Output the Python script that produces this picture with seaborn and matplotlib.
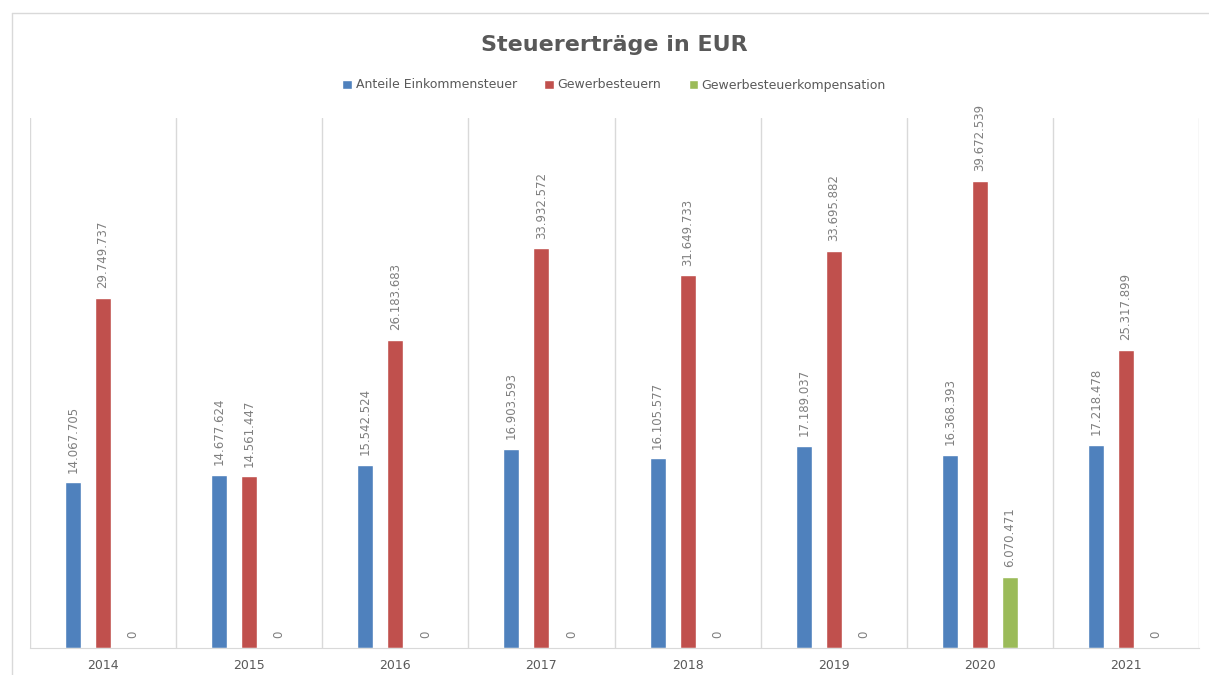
"""
Steuererträge in EUR - Balkendiagramm nach Jahren.
"""
import pandas as pd
import seaborn as sns
import matplotlib.pyplot as plt
from matplotlib.lines import Line2D
from matplotlib.patches import Patch

# Daten
jahre = ["2014", "2015", "2016", "2017", "2018", "2019", "2020", "2021"]
einkommensteuer = [14067705, 14677624, 15542524, 16903593, 16105577, 17189037, 16368393, 17218478]
gewerbesteuer = [29749737, 14561447, 26183683, 33932572, 31649733, 33695882, 39672539, 25317899]
kompensation = [0, 0, 0, 0, 0, 0, 6070471, 0]
serien = ["Anteile Einkommensteuer", "Gewerbesteuern", "Gewerbesteuerkompensation"]
farben = ["#4F81BD", "#C0504D", "#9BBB59"]

GRAU = "#595959"
HELLGRAU = "#7F7F7F"
LINIE = "#D9D9D9"


def de_format(v):
    return f"{v:,}".replace(",", ".")


def main():
    df = pd.DataFrame({
        "Jahr": jahre * 3,
        "Wert": einkommensteuer + gewerbesteuer + kompensation,
        "Steuer": [serien[0]] * 8 + [serien[1]] * 8 + [serien[2]] * 8,
    })

    sns.set_style("white")
    fig = plt.figure(figsize=(12.09, 6.75), dpi=100)
    ax = fig.add_axes([30 / 1209, 27 / 675, 1169 / 1209, 530 / 675])

    sns.barplot(data=df, x="Jahr", y="Wert", hue="Steuer", palette=farben,
                width=0.616, gap=0.47, legend=False, ax=ax, saturation=1)

    for cont, werte in zip(ax.containers, [einkommensteuer, gewerbesteuer, kompensation]):
        ax.bar_label(cont, labels=[de_format(v) for v in werte], rotation=90,
                     padding=7, fontsize=8.5, color=HELLGRAU)

    ax.set_xlim(-0.5, 7.5)
    ax.set_ylim(0, 45000000)
    ax.set_yticks([])
    ax.set_xlabel("")
    ax.set_ylabel("")
    ax.set_xticks([i - 0.5 for i in range(9)], minor=True)
    ax.grid(True, which="minor", axis="x", color=LINIE, linewidth=1)
    ax.tick_params(axis="x", which="both", length=0, labelsize=9, labelcolor=GRAU, pad=8)
    for s in ["top", "right", "left"]:
        ax.spines[s].set_visible(False)
    ax.spines["bottom"].set_color(LINIE)

    # Rahmen des Diagrammbereichs
    fig.add_artist(Line2D([12 / 1209, 12 / 1209], [0, 1 - 13 / 675], color=LINIE, linewidth=1))
    fig.add_artist(Line2D([12 / 1209, 1], [1 - 13 / 675, 1 - 13 / 675], color=LINIE, linewidth=1))

    fig.text(0.508, 1 - 45 / 675, "Steuererträge in EUR", ha="center", va="center",
             fontsize=16, fontweight="bold", color=GRAU)

    handles = [Patch(facecolor=c, label=s) for c, s in zip(farben, serien)]
    fig.legend(handles=handles, loc="center", bbox_to_anchor=(0.508, 1 - 85 / 675),
               ncol=3, frameon=False, fontsize=9, labelcolor=GRAU,
               handlelength=0.75, handleheight=0.75, handletextpad=0.3, columnspacing=2.2)

    fig.savefig("out.png", dpi=100)


if __name__ == "__main__":
    main()
